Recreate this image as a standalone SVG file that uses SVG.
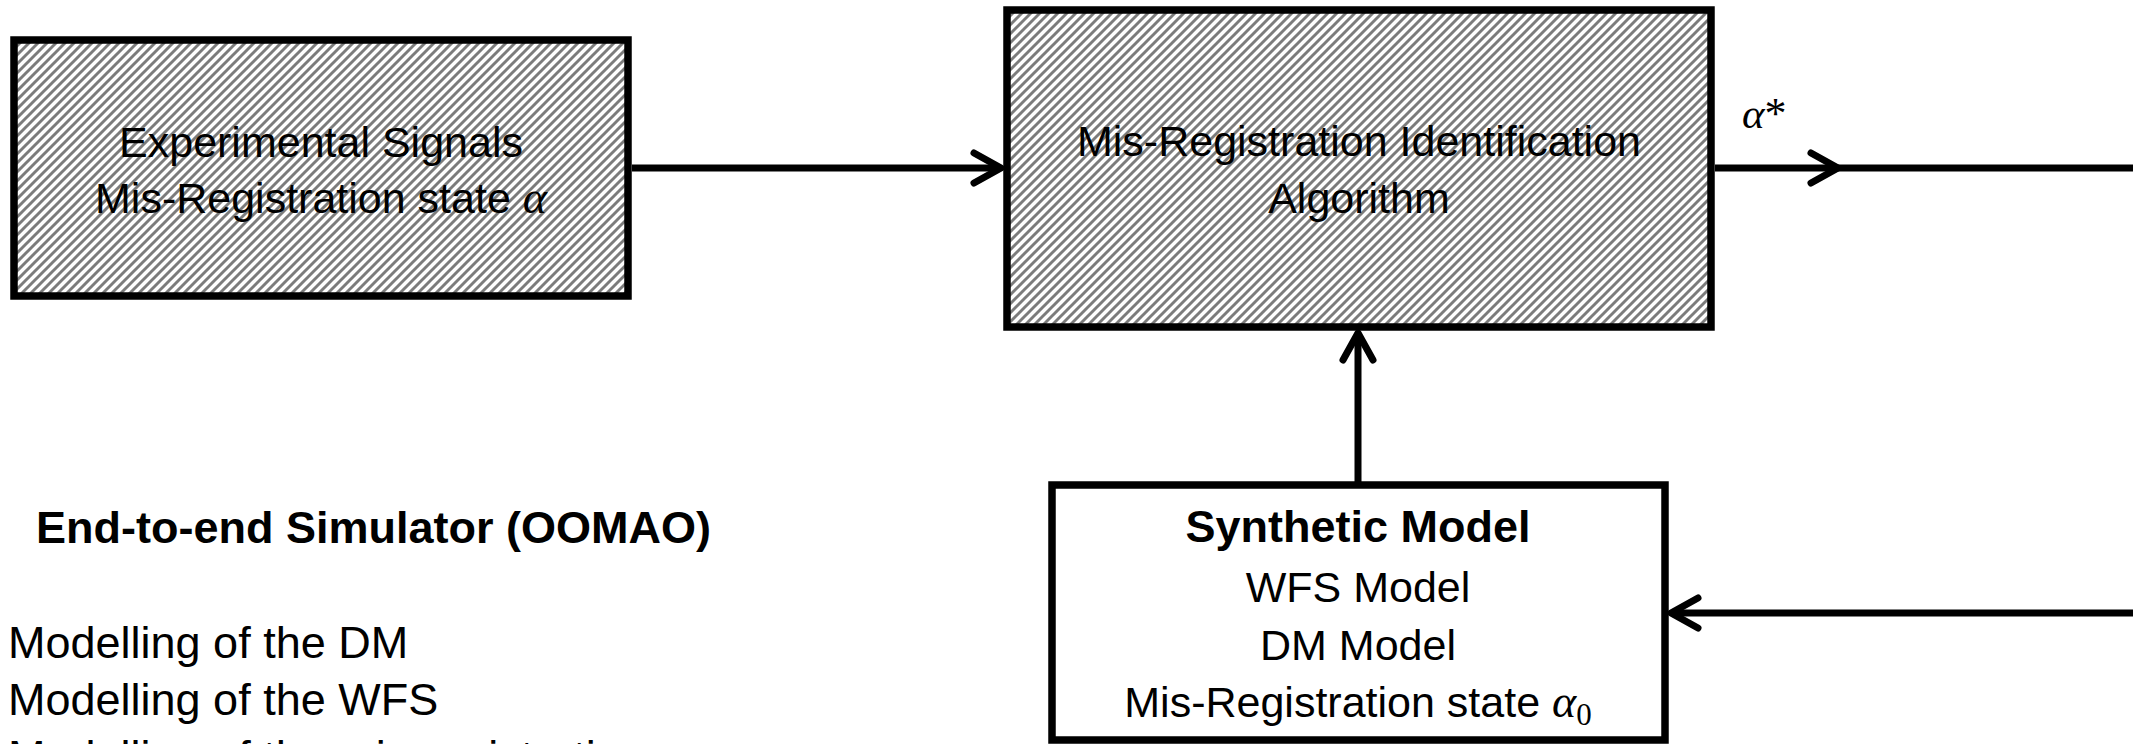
<svg xmlns="http://www.w3.org/2000/svg" width="2133" height="744" viewBox="0 0 2133 744">
  <style>
    .t { font-family: "Liberation Sans", Arial, sans-serif; font-size: 43px; fill: #000; }
    .b { font-weight: bold; font-size: 45px; }
    .l { font-size: 45px; }
    .m { font-family: "Liberation Serif", "Times New Roman", serif; font-style: italic; }
    .mu { font-family: "Liberation Serif", "Times New Roman", serif; font-style: normal; }
    .box { stroke: #000; stroke-width: 7.5; }
    .conn { stroke: #000; stroke-width: 7; fill: none; }
  </style>
  <defs>
    <pattern id="hatch" patternUnits="userSpaceOnUse" width="9" height="9">
      <rect width="9" height="9" fill="#fff"/>
      <path d="M0,9 L9,0 M-2,2 L2,-2 M7,11 L11,7" stroke="#7c7c7c" stroke-width="2.9"/>
    </pattern>
    <marker id="arr" markerUnits="userSpaceOnUse" markerWidth="40" markerHeight="40" refX="0" refY="0" orient="auto" overflow="visible">
      <path d="M-27,-15 L0,0 L-27,15" fill="none" stroke="#000" stroke-width="7" stroke-linecap="round" stroke-linejoin="round"/>
    </marker>
  </defs>
  <rect width="2133" height="744" fill="#fff"/>

  <g id="connectors">
    <line class="conn" x1="632" y1="168" x2="1001" y2="168" marker-end="url(#arr)"/>
    <path class="conn" d="M1715,168 L1838,168 L2140,168" marker-mid="url(#arr)"/>
    <line class="conn" x1="1358" y1="482" x2="1358" y2="333" marker-end="url(#arr)"/>
    <line class="conn" x1="2140" y1="613" x2="1671" y2="613" marker-end="url(#arr)"/>
    <text class="t" x="1742" y="128" font-size="48"><tspan class="m">α</tspan><tspan class="mu" font-size="44">*</tspan></text>
  </g>

  <g id="experimental-signals">
    <rect x="14" y="40" width="614" height="256" fill="url(#hatch)"/>
    <text class="t" text-anchor="middle" x="321" y="157">Experimental Signals</text>
    <text class="t" text-anchor="middle" x="321" y="213">Mis-Registration state <tspan class="m" font-size="46">α</tspan></text>
    <rect class="box" x="14" y="40" width="614" height="256" fill="none"/>
  </g>

  <g id="identification-algorithm">
    <rect x="1007" y="10" width="704" height="317" fill="url(#hatch)"/>
    <text class="t" text-anchor="middle" x="1359" y="156">Mis-Registration Identification</text>
    <text class="t" text-anchor="middle" x="1359" y="213">Algorithm</text>
    <rect class="box" x="1007" y="10" width="704" height="317" fill="none"/>
  </g>

  <g id="synthetic-model">
    <rect class="box" x="1052" y="485" width="613" height="255" fill="#fff"/>
    <text class="t b" text-anchor="middle" x="1358" y="542">Synthetic Model</text>
    <text class="t" text-anchor="middle" x="1358" y="602">WFS Model</text>
    <text class="t" text-anchor="middle" x="1358" y="660">DM Model</text>
    <text class="t" text-anchor="middle" x="1358" y="717">Mis-Registration state <tspan class="m" font-size="46">α</tspan><tspan class="mu" font-size="31" dy="8">0</tspan></text>
  </g>

  <g id="simulator">
    <text class="t b" x="36" y="543">End-to-end Simulator (OOMAO)</text>
    <text class="t l" x="8" y="658">Modelling of the DM</text>
    <text class="t l" x="8" y="715">Modelling of the WFS</text>
    <text class="t l" x="8" y="772">Modelling of the mis-registrations</text>
  </g>
</svg>
